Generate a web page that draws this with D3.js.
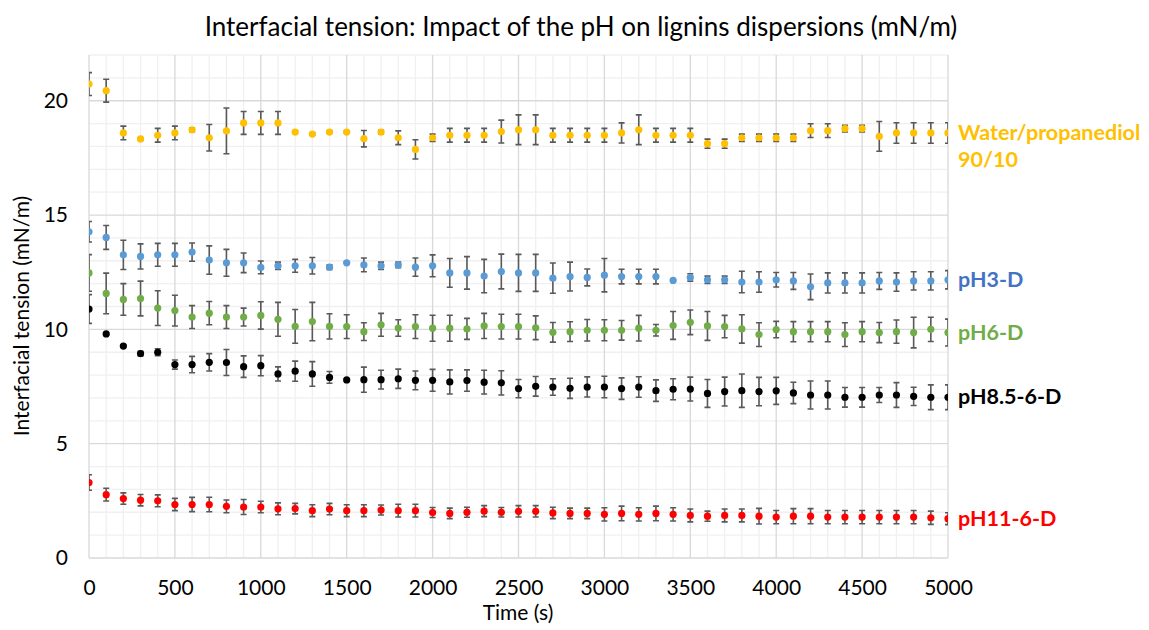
<!DOCTYPE html>
<html>
<head>
<meta charset="utf-8">
<script src="https://cdnjs.cloudflare.com/ajax/libs/d3/7.8.5/d3.min.js"></script>
<style>
  body { margin: 0; background: #fff; }
  text { font-family: Lato, "Open Sans", sans-serif; }
</style>
</head>
<body>
<div id="chart"></div>
<script>
// time points (s), one every 100 s
const times = d3.range(0, 5001, 100);

const waterVals = [20.73, 20.44, 18.59, 18.33, 18.49, 18.59, 18.73, 18.38, 18.68, 19.03, 19.03, 19.03, 18.63, 18.54, 18.63, 18.63, 18.34, 18.63, 18.38, 17.87, 18.38, 18.49, 18.49, 18.49, 18.65, 18.73, 18.73, 18.49, 18.49, 18.49, 18.49, 18.59, 18.73, 18.49, 18.49, 18.49, 18.12, 18.12, 18.38, 18.38, 18.38, 18.38, 18.69, 18.69, 18.78, 18.78, 18.44, 18.59, 18.59, 18.59, 18.59];
const waterErr = [0.5, 0.5, 0.3, 0.05, 0.3, 0.3, 0.08, 0.58, 1.0, 0.5, 0.5, 0.5, 0.05, 0.05, 0.05, 0.05, 0.36, 0.08, 0.3, 0.42, 0.16, 0.3, 0.3, 0.3, 0.5, 0.65, 0.65, 0.3, 0.3, 0.3, 0.3, 0.44, 0.65, 0.3, 0.3, 0.3, 0.2, 0.2, 0.16, 0.16, 0.16, 0.16, 0.3, 0.3, 0.15, 0.15, 0.65, 0.45, 0.45, 0.45, 0.45];

const ph3Vals = [14.27, 14.02, 13.26, 13.19, 13.26, 13.26, 13.38, 13.03, 12.91, 12.91, 12.71, 12.78, 12.78, 12.78, 12.72, 12.91, 12.82, 12.78, 12.82, 12.72, 12.78, 12.47, 12.47, 12.33, 12.53, 12.47, 12.47, 12.24, 12.31, 12.27, 12.37, 12.31, 12.31, 12.31, 12.14, 12.27, 12.17, 12.17, 12.07, 12.07, 12.17, 12.12, 11.86, 12.03, 12.03, 12.03, 12.12, 12.07, 12.12, 12.12, 12.17];
const ph3Err = [0.45, 0.52, 0.64, 0.55, 0.5, 0.5, 0.4, 0.62, 0.59, 0.43, 0.28, 0.16, 0.28, 0.36, 0.1, 0.03, 0.3, 0.16, 0.12, 0.4, 0.48, 0.63, 0.71, 0.73, 0.76, 0.81, 0.81, 0.66, 0.63, 0.37, 0.73, 0.32, 0.32, 0.32, 0.03, 0.16, 0.16, 0.16, 0.47, 0.45, 0.32, 0.37, 0.56, 0.44, 0.44, 0.44, 0.37, 0.4, 0.4, 0.4, 0.4];

const ph6Vals = [12.47, 11.57, 11.31, 11.35, 10.93, 10.82, 10.54, 10.71, 10.54, 10.54, 10.61, 10.44, 10.13, 10.34, 10.13, 10.12, 9.9, 10.2, 10.06, 10.12, 10.05, 10.05, 10.02, 10.15, 10.12, 10.12, 10.07, 9.87, 9.9, 9.96, 9.96, 9.96, 10.05, 9.96, 10.17, 10.31, 10.15, 10.12, 10.02, 9.77, 9.99, 9.9, 9.9, 9.9, 9.77, 9.9, 9.86, 9.9, 9.86, 10.0, 9.86];
const ph6Err = [0.8, 0.89, 0.69, 0.76, 0.76, 0.67, 0.5, 0.51, 0.5, 0.39, 0.6, 0.74, 0.74, 0.84, 0.55, 0.52, 0.39, 0.5, 0.36, 0.52, 0.57, 0.57, 0.46, 0.55, 0.54, 0.54, 0.52, 0.43, 0.43, 0.47, 0.46, 0.43, 0.56, 0.25, 0.61, 0.54, 0.63, 0.49, 0.62, 0.52, 0.36, 0.44, 0.44, 0.44, 0.52, 0.44, 0.44, 0.51, 0.67, 0.53, 0.59];

const ph85Vals = [10.89, 9.8, 9.27, 8.94, 9.0, 8.46, 8.46, 8.56, 8.55, 8.37, 8.41, 8.05, 8.17, 8.05, 7.9, 7.79, 7.8, 7.8, 7.84, 7.77, 7.77, 7.7, 7.76, 7.69, 7.66, 7.41, 7.51, 7.48, 7.42, 7.48, 7.48, 7.41, 7.48, 7.32, 7.38, 7.39, 7.2, 7.28, 7.32, 7.28, 7.31, 7.22, 7.13, 7.13, 7.03, 7.03, 7.13, 7.13, 7.07, 7.03, 7.03];
const ph85Err = [0.63, 0.05, 0.05, 0.1, 0.15, 0.2, 0.36, 0.38, 0.57, 0.47, 0.44, 0.31, 0.44, 0.54, 0.26, 0.05, 0.55, 0.41, 0.42, 0.41, 0.48, 0.53, 0.47, 0.52, 0.53, 0.4, 0.43, 0.36, 0.44, 0.44, 0.47, 0.47, 0.45, 0.47, 0.46, 0.52, 0.61, 0.63, 0.73, 0.62, 0.59, 0.47, 0.61, 0.61, 0.43, 0.43, 0.33, 0.54, 0.4, 0.54, 0.54];

const ph11Vals = [3.3, 2.77, 2.6, 2.53, 2.5, 2.34, 2.34, 2.34, 2.26, 2.23, 2.23, 2.15, 2.16, 2.07, 2.14, 2.07, 2.07, 2.1, 2.07, 2.07, 1.99, 1.95, 2.0, 2.05, 2.0, 2.04, 2.04, 1.97, 1.95, 1.95, 1.91, 1.95, 1.91, 1.95, 1.91, 1.86, 1.83, 1.86, 1.86, 1.83, 1.79, 1.83, 1.83, 1.79, 1.79, 1.79, 1.79, 1.79, 1.79, 1.76, 1.72];
const ph11Err = [0.34, 0.28, 0.25, 0.25, 0.26, 0.27, 0.31, 0.32, 0.28, 0.33, 0.25, 0.26, 0.23, 0.26, 0.25, 0.26, 0.26, 0.22, 0.28, 0.28, 0.22, 0.23, 0.22, 0.24, 0.21, 0.25, 0.25, 0.25, 0.23, 0.23, 0.29, 0.32, 0.29, 0.32, 0.29, 0.28, 0.22, 0.28, 0.28, 0.34, 0.29, 0.33, 0.33, 0.29, 0.29, 0.29, 0.29, 0.29, 0.29, 0.29, 0.26];

const seriesNames = ["Water/propanediol\n90/10", "pH3-D", "pH6-D", "pH8.5-6-D", "pH11-6-D"];
const seriesVals = [waterVals, ph3Vals, ph6Vals, ph85Vals, ph11Vals];
const seriesErr = [waterErr, ph3Err, ph6Err, ph85Err, ph11Err];
const markerColors = ["#FFC000", "#5B9BD5", "#70AD47", "#000000", "#FF0000"];
const labelColors = ["#FFC000", "#4472C4", "#70AD47", "#000000", "#FF0000"];

const xTicks = d3.range(0, 5001, 500);
const yTicks = [0, 5, 10, 15, 20];

const width = 1149;
const height = 630;
const margin = {top: 55, right: 201, bottom: 72, left: 89};

const svg = d3.select("#chart").append("svg")
    .attr("width", width)
    .attr("height", height);

const x = d3.scaleLinear().domain([0, 5000]).range([margin.left, width - margin.right]);
const y = d3.scaleLinear().domain([0, 22]).range([height - margin.bottom, margin.top]);

svg.append("defs").append("clipPath")
    .attr("id", "plotclip")
    .append("rect")
    .attr("x", margin.left)
    .attr("y", margin.top)
    .attr("width", x(5000) - margin.left)
    .attr("height", y(0) - margin.top);

// minor gridlines
const grid = svg.append("g");
grid.selectAll(".xminor")
    .data(d3.range(0, 5001, 100).filter(d => d % 500 !== 0))
    .enter().append("line")
    .attr("x1", d => x(d)).attr("x2", d => x(d))
    .attr("y1", y(0)).attr("y2", y(22))
    .attr("stroke", "#f0f0f0").attr("stroke-width", 1.3);
grid.selectAll(".yminor")
    .data(d3.range(0, 23, 1).filter(d => d % 5 !== 0))
    .enter().append("line")
    .attr("x1", x(0)).attr("x2", x(5000))
    .attr("y1", d => y(d)).attr("y2", d => y(d))
    .attr("stroke", "#f0f0f0").attr("stroke-width", 1.3);

// major gridlines
grid.selectAll(".xmajor")
    .data(xTicks)
    .enter().append("line")
    .attr("x1", d => x(d)).attr("x2", d => x(d))
    .attr("y1", y(0)).attr("y2", y(22))
    .attr("stroke", "#d9d9d9").attr("stroke-width", 1.3);
grid.selectAll(".ymajor")
    .data(yTicks)
    .enter().append("line")
    .attr("x1", x(0)).attr("x2", x(5000))
    .attr("y1", d => y(d)).attr("y2", d => y(d))
    .attr("stroke", "#d9d9d9").attr("stroke-width", 1.3);

// axes (labels only)
const xAxis = svg.append("g")
    .attr("transform", "translate(0," + (y(0) + 14) + ")")
    .call(d3.axisBottom(x).tickValues(xTicks).tickFormat(d3.format("d")).tickSize(0).tickPadding(8));
xAxis.select(".domain").remove();
xAxis.selectAll("text").attr("font-size", 21).attr("fill", "#000")
    .style("font-family", "Lato, sans-serif");

const yAxis = svg.append("g")
    .attr("transform", "translate(" + (x(0) - 21) + ",0)")
    .call(d3.axisLeft(y).tickValues(yTicks).tickSize(0).tickPadding(0));
yAxis.select(".domain").remove();
yAxis.selectAll("text").attr("font-size", 21).attr("fill", "#000")
    .style("font-family", "Lato, sans-serif");

// series
const plot = svg.append("g").attr("clip-path", "url(#plotclip)");
seriesVals.forEach((vals, i) => {
    const errs = seriesErr[i];
    const g = plot.append("g");
    const pts = times.map((t, j) => ({t: t, v: vals[j], e: errs[j]}));
    g.selectAll(".err")
        .data(pts)
        .enter().append("path")
        .attr("d", d => {
            const cx = x(d.t), y1 = y(d.v + d.e), y2 = y(d.v - d.e);
            return "M" + cx + "," + y1 + "V" + y2 +
                "M" + (cx - 3) + "," + y1 + "H" + (cx + 3) +
                "M" + (cx - 3) + "," + y2 + "H" + (cx + 3);
        })
        .attr("stroke", "#595959")
        .attr("stroke-width", 1.6)
        .attr("fill", "none");
    g.selectAll("circle")
        .data(pts)
        .enter().append("circle")
        .attr("cx", d => x(d.t))
        .attr("cy", d => y(d.v))
        .attr("r", 3.6)
        .attr("fill", markerColors[i]);
});

// series labels at last point
seriesNames.forEach((name, i) => {
    const lines = name.split("\n");
    const t = svg.append("text")
        .attr("x", x(5000) + 10)
        .attr("y", y(seriesVals[i][seriesVals[i].length - 1]) + 7)
        .attr("font-size", 21.5)
        .attr("font-weight", "bold")
        .attr("fill", labelColors[i]);
    lines.forEach((ln, k) => {
        t.append("tspan")
            .attr("x", x(5000) + 10)
            .attr("dy", k === 0 ? 0 : 27)
            .text(ln);
    });
});

// titles
svg.append("text")
    .attr("x", 581)
    .attr("y", 36)
    .attr("text-anchor", "middle")
    .attr("font-size", 26)
    .attr("fill", "#000")
    .text("Interfacial tension: Impact of the pH on lignins dispersions (mN/m)");

svg.append("text")
    .attr("x", 518)
    .attr("y", 620)
    .attr("text-anchor", "middle")
    .attr("font-size", 21)
    .attr("fill", "#000")
    .text("Time (s)");

svg.append("text")
    .attr("transform", "translate(29," + 316 + ") rotate(-90)")
    .attr("text-anchor", "middle")
    .attr("font-size", 21)
    .attr("fill", "#000")
    .text("Interfacial tension (mN/m)");
</script>
</body>
</html>
